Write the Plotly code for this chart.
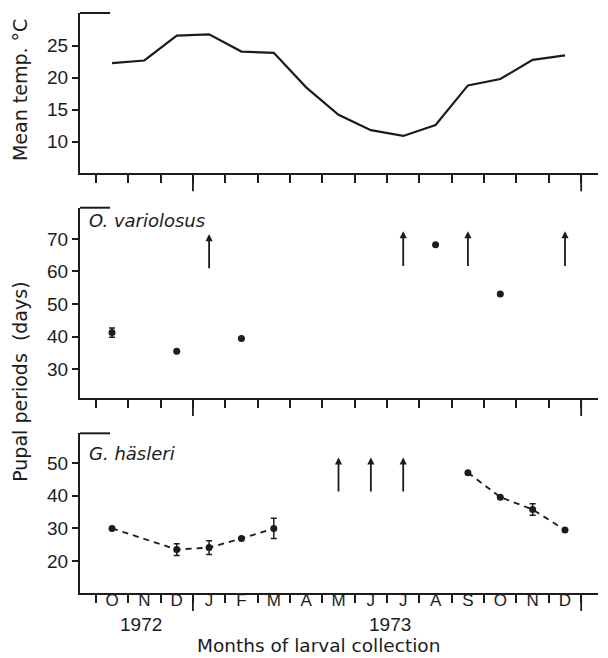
import plotly.graph_objects as go

# ---------------- data ----------------
MONTHS = ['O', 'N', 'D', 'J', 'F', 'M', 'A', 'M', 'J', 'J', 'A', 'S', 'O', 'N', 'D']
MONTH_IDX = list(range(len(MONTHS)))
YEAR_LABELS = ['1972', '1973']
YEAR_POS = [0.9, 8.6]

# Mean temperature (°C) per month
TEMP = [22.3, 22.7, 26.6, 26.8, 24.1, 23.9, 18.5, 14.2, 11.8, 10.9, 12.6, 18.8, 19.8, 22.8, 23.5]

# O. variolosus pupal periods (days)
OV_MONTH = [0, 2, 4, 10, 12]
OV_DAYS = [41.2, 35.5, 39.4, 68.2, 53.1]
OV_ERR = [1.4, 0, 0, 0, 0]
OV_ARROW_MONTH = [3, 9, 11, 14]
OV_ARROW_BASE = [60.5, 61.2, 61.2, 61.2]
OV_ARROW_TIP = [71.5, 72.4, 72.4, 72.4]

# G. häsleri pupal periods (days), two connected runs
GH1_MONTH = [0, 2, 3, 4, 5]
GH1_DAYS = [30.0, 23.5, 24.1, 26.9, 30.0]
GH1_ERR = [0, 1.8, 2.1, 0, 3.1]
GH2_MONTH = [11, 12, 13, 14]
GH2_DAYS = [47.1, 39.6, 35.8, 29.5]
GH2_ERR = [0, 0, 1.8, 0]
GH_ARROW_MONTH = [7, 8, 9]
GH_ARROW_BASE = [40.9, 40.9, 40.9]
GH_ARROW_TIP = [51.8, 51.8, 51.8]

# ---------------- styling ----------------
INK = '#1c1c1c'
XMIN, XMAX = -0.99, 15.02
BOUNDARIES = [i - 0.5 for i in range(len(MONTHS) + 1)]
LONG_TICKS = [2.5, 14.5]
TICK_FONT = dict(family='Liberation Sans, Arial, sans-serif', size=19, color=INK)
TITLE_FONT = dict(family='DejaVu Sans, sans-serif', size=19, color=INK)
PLOT_H = 580
DOMAINS = {'': [0.7236, 1.0], '2': [0.3362, 0.6643], '3': [0.0, 0.2753]}

fig = go.Figure()

# Top: temperature
fig.add_trace(go.Scatter(x=MONTH_IDX, y=TEMP, mode='lines',
                         line=dict(color=INK, width=2.2), xaxis='x', yaxis='y'))

# Middle: O. variolosus
fig.add_trace(go.Scatter(x=OV_MONTH, y=OV_DAYS, mode='markers',
                         marker=dict(color=INK, size=7),
                         error_y=dict(type='data', array=OV_ERR, visible=True,
                                      color=INK, thickness=1.5, width=3),
                         xaxis='x2', yaxis='y2'))

# Bottom: G. häsleri
for xs, ys, es in [(GH1_MONTH, GH1_DAYS, GH1_ERR), (GH2_MONTH, GH2_DAYS, GH2_ERR)]:
    fig.add_trace(go.Scatter(x=xs, y=ys, mode='lines+markers',
                             line=dict(color=INK, width=1.8, dash='6px,5px'),
                             marker=dict(color=INK, size=7),
                             error_y=dict(type='data', array=es, visible=True,
                                          color=INK, thickness=1.5, width=3),
                             xaxis='x3', yaxis='y3'))

annotations = []
# arrows (pupal period exceeded observation)
for months, base, tip, xa, ya in [(OV_ARROW_MONTH, OV_ARROW_BASE, OV_ARROW_TIP, 'x2', 'y2'),
                                   (GH_ARROW_MONTH, GH_ARROW_BASE, GH_ARROW_TIP, 'x3', 'y3')]:
    for m, b, t in zip(months, base, tip):
        annotations.append(dict(x=m, y=t, ax=m, ay=b, xref=xa, yref=ya, axref=xa, ayref=ya,
                                text='', showarrow=True, arrowhead=2, arrowsize=0.8,
                                arrowwidth=1.8, arrowcolor=INK, standoff=0))

# species labels
annotations.append(dict(x=0.013, y=1.0, xref='x2 domain', yref='y2 domain', text='<i>O. variolosus</i>',
                        showarrow=False, xanchor='left', yanchor='top',
                        font=dict(family='DejaVu Sans, sans-serif', size=18, color=INK)))
annotations.append(dict(x=0.013, y=0.95, xref='x3 domain', yref='y3 domain', text='<i>G. häsleri</i>',
                        showarrow=False, xanchor='left', yanchor='top',
                        font=dict(family='DejaVu Sans, sans-serif', size=18, color=INK)))

# year labels
for lab, pos in zip(YEAR_LABELS, YEAR_POS):
    annotations.append(dict(x=pos, y=-0.055, xref='x3', yref='paper', text=lab, showarrow=False,
                            xanchor='center', yanchor='middle', font=TICK_FONT))
# axis titles
annotations.append(dict(x=0.461, y=-0.091, xref='paper', yref='paper', text='Months of larval collection',
                        showarrow=False, xanchor='center', yanchor='middle',
                        font=dict(family='DejaVu Sans, sans-serif', size=18.5, color=INK)))
annotations.append(dict(x=-0.116, y=0.867, xref='paper', yref='paper', text='Mean temp. °C',
                        textangle=-90, showarrow=False, xanchor='center', yanchor='middle', font=TITLE_FONT))
annotations.append(dict(x=-0.116, y=0.364, xref='paper', yref='paper', text='Pupal periods  (days)',
                        textangle=-90, showarrow=False, xanchor='center', yanchor='middle', font=TITLE_FONT))

# decorative frame pieces: top stub of each y axis, long ticks at year boundaries
shapes = []
for s, dom in DOMAINS.items():
    shapes.append(dict(type='line', xref='paper', yref='paper',
                       x0=0, x1=0.058, y0=dom[1], y1=dom[1], line=dict(color=INK, width=2)))
    for lt in LONG_TICKS:
        fx = (lt - XMIN) / (XMAX - XMIN)
        shapes.append(dict(type='line', xref='paper', yref='paper',
                           x0=fx, x1=fx, y0=dom[0], y1=dom[0] - 18 / PLOT_H,
                           line=dict(color=INK, width=1.8)))


def xax(anchor, labels):
    return dict(anchor=anchor, domain=[0, 1], range=[XMIN, XMAX], showline=True, linewidth=2,
                linecolor=INK, showgrid=False, zeroline=False, ticks='', automargin=False,
                tickmode='array', tickvals=MONTH_IDX, ticktext=MONTHS,
                showticklabels=labels, ticklabelstandoff=-9,
                tickfont=dict(family='Liberation Sans, Arial, sans-serif', size=17, color=INK),
                minor=dict(tickmode='array', tickvals=BOUNDARIES, ticks='outside', ticklen=8,
                           tickwidth=1.5, tickcolor=INK, showgrid=False))


def yax(anchor, domain, rng, vals):
    return dict(anchor=anchor, domain=domain, range=rng, showline=True, linewidth=2, linecolor=INK,
                showgrid=False, zeroline=False, ticks='outside', ticklen=6, tickwidth=1.5,
                automargin=False,
                tickcolor=INK, tickmode='array', tickvals=vals, tickfont=TICK_FONT)


fig.update_layout(
    width=608, height=658,
    margin=dict(l=80, r=10, t=13, b=65, autoexpand=False),
    paper_bgcolor='white', plot_bgcolor='white',
    showlegend=False,
    xaxis=xax('y', False),
    xaxis2=xax('y2', False),
    xaxis3=xax('y3', True),
    yaxis=yax('x', DOMAINS[''], [5.05, 30.13], [10, 15, 20, 25]),
    yaxis2=yax('x2', DOMAINS['2'], [21.1, 79.6], [30, 40, 50, 60, 70]),
    yaxis3=yax('x3', DOMAINS['3'], [10.15, 59.2], [20, 30, 40, 50]),
    annotations=annotations,
    shapes=shapes,
)

fig.write_html('out.html', config={'displayModeBar': False},
               post_script="document.body.style.margin='0px';document.body.style.overflow='hidden';")
